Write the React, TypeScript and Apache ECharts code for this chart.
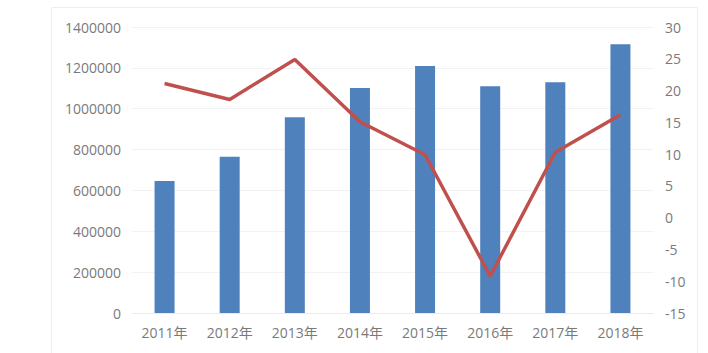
import React, { useEffect, useRef } from "react";
import * as echarts from "echarts";

const categories = ["2011年", "2012年", "2013年", "2014年", "2015年", "2016年", "2017年", "2018年"];
const barValues = [646000, 765000, 958000, 1101000, 1209000, 1110000, 1129000, 1315000];
const lineValues = [21.1, 18.6, 24.9, 15.1, 9.9, -9.2, 10.3, 16.2];

export default function App() {
  const ref = useRef<HTMLDivElement>(null);
  useEffect(() => {
    const chart = echarts.init(ref.current!, null, { renderer: "svg" });
    const font = "'Open Sans', 'Noto Sans CJK SC', sans-serif";
    chart.setOption({
      animation: false,
      backgroundColor: "#fff",
      graphic: [
        {
          type: "rect",
          shape: { x: 51.5, y: 7.5, width: 646, height: 360 },
          style: { fill: "none", stroke: "#EEEEEE", lineWidth: 1 },
          silent: true,
        },
      ],
      grid: { left: 132, right: 55, top: 27, bottom: 40, containLabel: false },
      xAxis: {
        type: "category",
        data: categories,
        axisLine: { show: true, lineStyle: { color: "#EBEBEB" } },
        axisTick: { show: false },
        axisLabel: { color: "#7A7A7A", fontSize: 14, fontFamily: font, margin: 12 },
      },
      yAxis: [
        {
          type: "value",
          min: 0,
          max: 1400000,
          interval: 200000,
          axisLine: { show: false },
          axisTick: { show: false },
          splitLine: { lineStyle: { color: "#F2F2F2" } },
          axisLabel: {
            color: "#7A7A7A",
            fontSize: 14,
            fontFamily: font,
            margin: 11,
            formatter: (v: number) => String(v),
          },
        },
        {
          type: "value",
          min: -15,
          max: 30,
          interval: 5,
          axisLine: { show: false },
          axisTick: { show: false },
          splitLine: { show: false },
          axisLabel: { color: "#7A7A7A", fontSize: 14, fontFamily: font, margin: 12 },
        },
      ],
      series: [
        {
          type: "bar",
          data: barValues,
          barWidth: 20,
          itemStyle: { color: "#4F81BD" },
        },
        {
          type: "line",
          yAxisIndex: 1,
          data: lineValues,
          symbol: "none",
          lineStyle: { color: "#C0504D", width: 3.5 },
        },
      ],
    });
    return () => chart.dispose();
  }, []);
  return (
    <div
      ref={ref}
      style={{ position: "absolute", left: 0, top: 0, width: 708, height: 353 }}
    />
  );
}
